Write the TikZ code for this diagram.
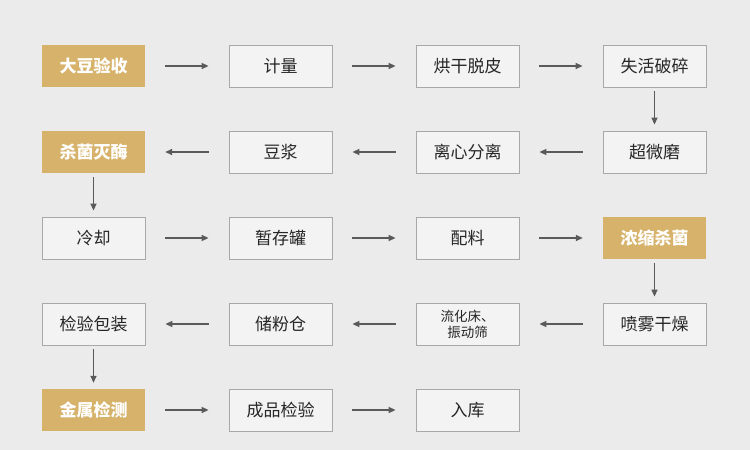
\documentclass[tikz,border=0pt]{standalone}
\usepackage{fontspec}
\setmainfont{Noto Sans CJK SC}
\usetikzlibrary{arrows.meta}
\definecolor{bg}{HTML}{EBEBEB}
\definecolor{gold}{HTML}{D6B26A}
\definecolor{bx}{HTML}{F3F3F3}
\definecolor{bd}{HTML}{A8A8A8}
\definecolor{ar}{HTML}{5A5A5A}
\begin{document}
\begin{tikzpicture}[x=1pt,y=-1pt,
 box/.style={draw=bd,fill=bx,line width=0.8pt,minimum width=103pt,minimum height=42pt,inner sep=0pt,font=\fontsize{17}{19}\selectfont,text=black!85},
 gbox/.style={fill=gold,minimum width=103pt,minimum height=42pt,inner sep=0pt,font=\fontsize{17}{19}\selectfont\bfseries,text=white},
 arr/.style={draw=ar,line width=1.4pt,-{Triangle[length=7pt,width=6pt]},shorten >=20pt,shorten <=20pt},
 varr/.style={draw=ar,line width=1.4pt,-{Triangle[length=7pt,width=6pt]},shorten >=6pt,shorten <=4pt}]
\fill[bg] (0,0) rectangle (750,450);
\def\xa{93.5}\def\xb{280.5}\def\xc{467.5}\def\xd{654.5}
\node[gbox] (a1) at (\xa,66) {大豆验收};
\node[box] (a2) at (\xb,66) {计量};
\node[box] (a3) at (\xc,66) {烘干脱皮};
\node[box] (a4) at (\xd,66) {失活破碎};
\node[gbox] (b1) at (\xa,152) {杀菌灭酶};
\node[box] (b2) at (\xb,152) {豆浆};
\node[box] (b3) at (\xc,152) {离心分离};
\node[box] (b4) at (\xd,152) {超微磨};
\node[box] (c1) at (\xa,238) {冷却};
\node[box] (c2) at (\xb,238) {暂存罐};
\node[box] (c3) at (\xc,238) {配料};
\node[gbox] (c4) at (\xd,238) {浓缩杀菌};
\node[box] (d1) at (\xa,324) {检验包装};
\node[box] (d2) at (\xb,324) {储粉仓};
\node[box,align=center,font=\fontsize{13.5}{16}\selectfont] (d3) at (\xc,324) {流化床、\\振动筛};
\node[box] (d4) at (\xd,324) {喷雾干燥};
\node[gbox] (e1) at (\xa,410) {金属检测};
\node[box] (e2) at (\xb,410) {成品检验};
\node[box] (e3) at (\xc,410) {入库};
\draw[arr] (a1.east)--(a2.west);
\draw[arr] (a2.east)--(a3.west);
\draw[arr] (a3.east)--(a4.west);
\draw[varr] (a4.south)--(b4.north);
\draw[arr] (b4.west)--(b3.east);
\draw[arr] (b3.west)--(b2.east);
\draw[arr] (b2.west)--(b1.east);
\draw[varr] (b1.south)--(c1.north);
\draw[arr] (c1.east)--(c2.west);
\draw[arr] (c2.east)--(c3.west);
\draw[arr] (c3.east)--(c4.west);
\draw[varr] (c4.south)--(d4.north);
\draw[arr] (d4.west)--(d3.east);
\draw[arr] (d3.west)--(d2.east);
\draw[arr] (d2.west)--(d1.east);
\draw[varr] (d1.south)--(e1.north);
\draw[arr] (e1.east)--(e2.west);
\draw[arr] (e2.east)--(e3.west);
\end{tikzpicture}
\end{document}
